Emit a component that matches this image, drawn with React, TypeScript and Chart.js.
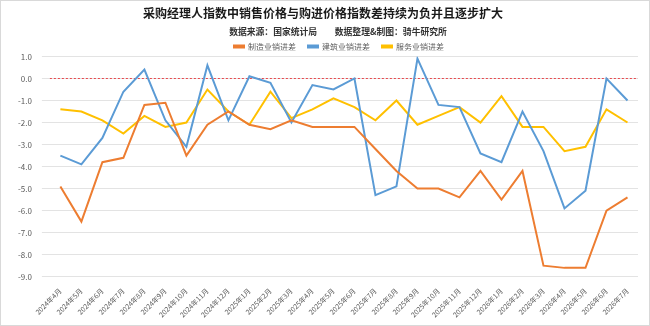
import React, { useEffect, useRef } from "react";
import { Chart, registerables } from "chart.js";

Chart.register(...registerables);

const months: string[] = [
  "2024年4月", "2024年5月", "2024年6月", "2024年7月", "2024年8月", "2024年9月",
  "2024年10月", "2024年11月", "2024年12月", "2025年1月", "2025年2月", "2025年3月",
  "2025年4月", "2025年5月", "2025年6月", "2025年7月", "2025年8月", "2025年9月",
  "2025年10月", "2025年11月", "2025年12月", "2026年1月", "2026年2月", "2026年3月",
  "2026年4月", "2026年5月", "2026年6月", "2026年7月",
];

// 制造业：销售价格指数 − 购进价格指数
const manufacturing: number[] = [
  -4.9, -6.5, -3.8, -3.6, -1.2, -1.1, -3.5, -2.1, -1.5, -2.1, -2.3, -1.9,
  -2.2, -2.2, -2.2, -3.2, -4.2, -5.0, -5.0, -5.4, -4.2, -5.5, -4.2, -8.5,
  -8.6, -8.6, -6.0, -5.4,
];

// 建筑业
const construction: number[] = [
  -3.5, -3.9, -2.7, -0.6, 0.4, -1.9, -3.1, 0.6, -1.9, 0.1, -0.2, -2.0,
  -0.3, -0.5, 0.0, -5.3, -4.9, 0.9, -1.2, -1.3, -3.4, -3.8, -1.5, -3.3,
  -5.9, -5.1, 0.0, -1.0,
];

// 服务业
const services: number[] = [
  -1.4, -1.5, -1.9, -2.5, -1.7, -2.2, -2.0, -0.5, -1.5, -2.1, -0.6, -1.8,
  -1.4, -0.9, -1.3, -1.9, -1.0, -2.1, -1.7, -1.3, -2.0, -0.8, -2.2, -2.2,
  -3.3, -3.1, -1.4, -2.0,
];

const seriesNames: string[] = ["制造业销进差", "建筑业销进差", "服务业销进差"];
const seriesColors: string[] = ["#ED7D31", "#5B9BD5", "#FFC000"];

const titleText = "采购经理人指数中销售价格与购进价格指数差持续为负并且逐步扩大";
const subtitleText = "数据来源：国家统计局　　数据整理&制图：骑牛研究所";

const FONT = "'Noto Sans CJK SC', 'Noto Sans', sans-serif";

// white background with a thin frame around the whole chart
const framePlugin = {
  id: "frame",
  beforeDraw(chart: any) {
    const { ctx, width, height } = chart;
    ctx.save();
    ctx.fillStyle = "#ffffff";
    ctx.fillRect(0, 0, width, height);
    ctx.strokeStyle = "#D9D9D9";
    ctx.lineWidth = 1;
    ctx.strokeRect(0.5, 0.5, width - 1, height - 1);
    ctx.restore();
  },
};

// the source line and the legend sit a little right of the title
const headerNudgePlugin = {
  id: "headerNudge",
  afterLayout(chart: any) {
    for (const box of chart.boxes) {
      if (box.options && box.options.text === subtitleText) {
        box.left += 15;
        box.right += 15;
      }
    }
    const lg = chart.legend;
    if (lg) {
      lg.left += 16;
      lg.right += 16;
      lg.top -= 6;
      lg.bottom -= 6;
    }
  },
};

// red dashed reference line at zero across the plot area
const zeroLinePlugin = {
  id: "zeroLine",
  beforeDatasetsDraw(chart: any) {
    const { ctx, chartArea, scales } = chart;
    const y = Math.round(scales.y.getPixelForValue(0)) + 0.5;
    ctx.save();
    ctx.strokeStyle = "#E8474C";
    ctx.lineWidth = 1;
    ctx.setLineDash([2, 2]);
    ctx.beginPath();
    ctx.moveTo(chartArea.left, y);
    ctx.lineTo(chartArea.right, y);
    ctx.stroke();
    ctx.restore();
  },
};

export default function App() {
  const canvasRef = useRef<HTMLCanvasElement | null>(null);

  useEffect(() => {
    document.body.style.margin = "0";
    const canvas = canvasRef.current;
    if (!canvas) return;
    const values = [manufacturing, construction, services];
    const chart = new Chart(canvas, {
      type: "line",
      data: {
        labels: months,
        datasets: values.map((v, i) => ({
          label: seriesNames[i],
          data: v,
          borderColor: seriesColors[i],
          backgroundColor: seriesColors[i],
          borderWidth: 2,
          pointRadius: 0,
          tension: 0,
          fill: false,
        })),
      },
      options: {
        responsive: false,
        animation: false,
        layout: { padding: { top: 2, left: 8, right: 12, bottom: 5 } },
        plugins: {
          title: {
            display: true,
            text: titleText,
            color: "#1a1a1a",
            font: { family: FONT, size: 12, weight: "bold" },
            padding: { top: 4, bottom: 5.5 },
          },
          subtitle: {
            display: true,
            text: subtitleText,
            color: "#333333",
            font: { family: FONT, size: 8.8, weight: "bold" },
            padding: { top: 0, bottom: 0 },
          },
          legend: {
            display: true,
            position: "top",
            maxHeight: 20,
            labels: {
              boxWidth: 10,
              boxHeight: 2,
              padding: 12,
              color: "#595959",
              font: { family: FONT, size: 8 },
            },
          },
          tooltip: { enabled: false },
        },
        scales: {
          x: {
            offset: true,
            grid: { display: false },
            border: { display: false },
            ticks: {
              minRotation: 45,
              maxRotation: 45,
              autoSkip: false,
              color: "#595959",
              font: { family: FONT, size: 7 },
              padding: 2,
            },
          },
          y: {
            min: -9,
            max: 1,
            grid: { color: "#E3E3E3", lineWidth: 1 },
            border: { display: false },
            ticks: {
              stepSize: 1,
              color: "#595959",
              font: { family: FONT, size: 8 },
              padding: 10,
              callback: (v: any) => Number(v).toFixed(1),
            },
          },
        },
      },
      plugins: [framePlugin, headerNudgePlugin, zeroLinePlugin],
    });
    return () => chart.destroy();
  }, []);

  return (
    <div style={{ width: 650, height: 326 }}>
      <canvas ref={canvasRef} width={650} height={326} style={{ display: "block" }} />
    </div>
  );
}
